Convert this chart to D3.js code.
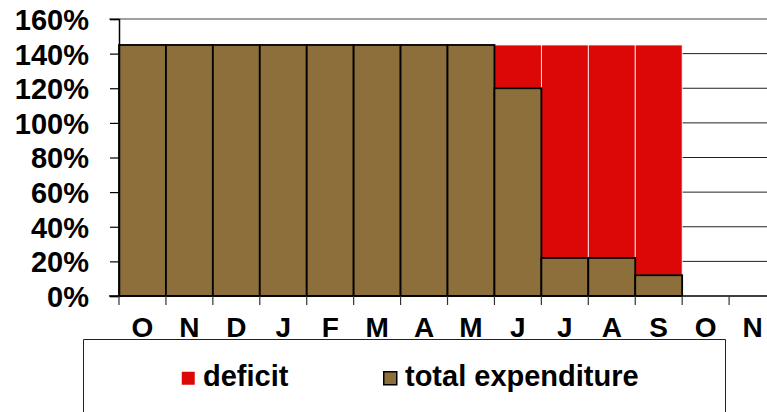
<!DOCTYPE html>
<html>
<head>
<meta charset="utf-8">
<script src="https://cdn.jsdelivr.net/npm/d3@7"></script>
<style>
    body { margin: 0; background: #fff; overflow: hidden; }
    svg { display: block; }
    text { font-family: "Liberation Sans", Arial, sans-serif; font-weight: bold; fill: #000; }
</style>
</head>
<body>
<div id="chart"></div>
<script>

// month labels (Oct .. Nov of next year)
let months = ["O", "N", "D", "J", "F", "M", "A", "M", "J", "J", "A", "S", "O", "N"];
// total expenditure, % of need
let expenditure = [145, 145, 145, 145, 145, 145, 145, 145, 120, 22, 22, 12, null, null];
// deficit stacked on top, %
let deficit = [0, 0, 0, 0, 0, 0, 0, 0, 25, 123, 123, 133, null, null];
// y ticks
let yTicks = [0, 20, 40, 60, 80, 100, 120, 140, 160];

let width = 767, height = 412;
let margin = {left: 119, top: 19, bottom: 296};
let colors = {deficit: "#dc0808", expenditure: "#8c6f3b"};

let svg = d3.select("#chart")
    .append("svg")
    .attr("width", width)
    .attr("height", height);

// scales (plot runs past the right edge of the picture)
let x = d3.scaleBand()
    .domain(d3.range(months.length))
    .range([margin.left, margin.left + 46.93 * months.length])
    .padding(0);

let y = d3.scaleLinear()
    .domain([0, 160])
    .range([margin.bottom, margin.top]);

// gridlines
svg.append("g")
    .selectAll("line")
    .data(yTicks.filter(d => d > 0))
    .join("line")
    .attr("x1", d => d === 160 ? 109 : margin.left)
    .attr("x2", width)
    .attr("y1", d => y(d))
    .attr("y2", d => y(d))
    .attr("stroke", d => d === 160 ? "#808080" : "#222")
    .attr("stroke-width", d => d === 160 ? 1.5 : 1);

// deficit bars
svg.append("g")
    .selectAll("rect")
    .data(months.map((m, i) => i).filter(i => deficit[i] > 0))
    .join("rect")
    .attr("x", i => x(i))
    .attr("width", x.bandwidth())
    .attr("y", i => y(expenditure[i] + deficit[i]))
    .attr("height", i => y(expenditure[i]) - y(expenditure[i] + deficit[i]))
    .attr("fill", colors.deficit)
    .attr("stroke", "#fff")
    .attr("stroke-width", 0.8);

// expenditure bars
svg.append("g")
    .selectAll("rect")
    .data(months.map((m, i) => i).filter(i => expenditure[i] != null))
    .join("rect")
    .attr("x", i => x(i))
    .attr("width", x.bandwidth())
    .attr("y", i => y(expenditure[i]))
    .attr("height", i => y(0) - y(expenditure[i]))
    .attr("fill", colors.expenditure)
    .attr("stroke", "#000")
    .attr("stroke-width", 1.8);

// y axis
let yAxis = svg.append("g")
    .attr("transform", `translate(${margin.left},0)`)
    .call(d3.axisLeft(y).tickValues(yTicks).tickFormat(d => d + "%").tickSize(9).tickPadding(21));
yAxis.select(".domain").attr("stroke", "#000").attr("stroke-width", 1.5);
yAxis.selectAll(".tick line").attr("stroke", "#000").attr("stroke-width", 1.2);
yAxis.selectAll(".tick text")
    .attr("font-size", 29)
    .attr("font-family", "'Liberation Sans', Arial, sans-serif")
    .attr("font-weight", "bold")
    .attr("dy", "0.36em");

// x axis line
svg.append("line")
    .attr("x1", 109)
    .attr("x2", width)
    .attr("y1", y(0))
    .attr("y2", y(0))
    .attr("stroke", "#000")
    .attr("stroke-width", 1.5);

// x ticks at band edges
svg.append("g")
    .selectAll("line")
    .data(d3.range(months.length + 1))
    .join("line")
    .attr("x1", i => margin.left + i * x.step())
    .attr("x2", i => margin.left + i * x.step())
    .attr("y1", y(0))
    .attr("y2", y(0) + 9)
    .attr("stroke", "#333")
    .attr("stroke-width", 1.2);

// x labels
svg.append("g")
    .selectAll("text")
    .data(months)
    .join("text")
    .attr("x", (d, i) => x(i) + x.bandwidth() / 2)
    .attr("y", 337)
    .attr("text-anchor", "middle")
    .attr("font-size", 28)
    .text(d => d);

// legend box
svg.append("path")
    .attr("d", `M83.5,${height}V339.5H725.5V${height}`)
    .attr("fill", "none")
    .attr("stroke", "#222")
    .attr("stroke-width", 1);

let legendItems = [
    {label: "deficit", color: colors.deficit, x: 181, stroke: "none"},
    {label: "total expenditure", color: colors.expenditure, x: 383, stroke: "#000"}
];

let legend = svg.append("g")
    .selectAll("g")
    .data(legendItems)
    .join("g")
    .attr("transform", d => `translate(${d.x},371)`);

legend.append("rect")
    .attr("x", 0.75)
    .attr("y", 0.75)
    .attr("width", 13)
    .attr("height", 13)
    .attr("fill", d => d.color)
    .attr("stroke", d => d.stroke)
    .attr("stroke-width", 1.5);

legend.append("text")
    .attr("x", 22)
    .attr("y", 14.5)
    .attr("font-size", 29)
    .text(d => d.label);

</script>
</body>
</html>
